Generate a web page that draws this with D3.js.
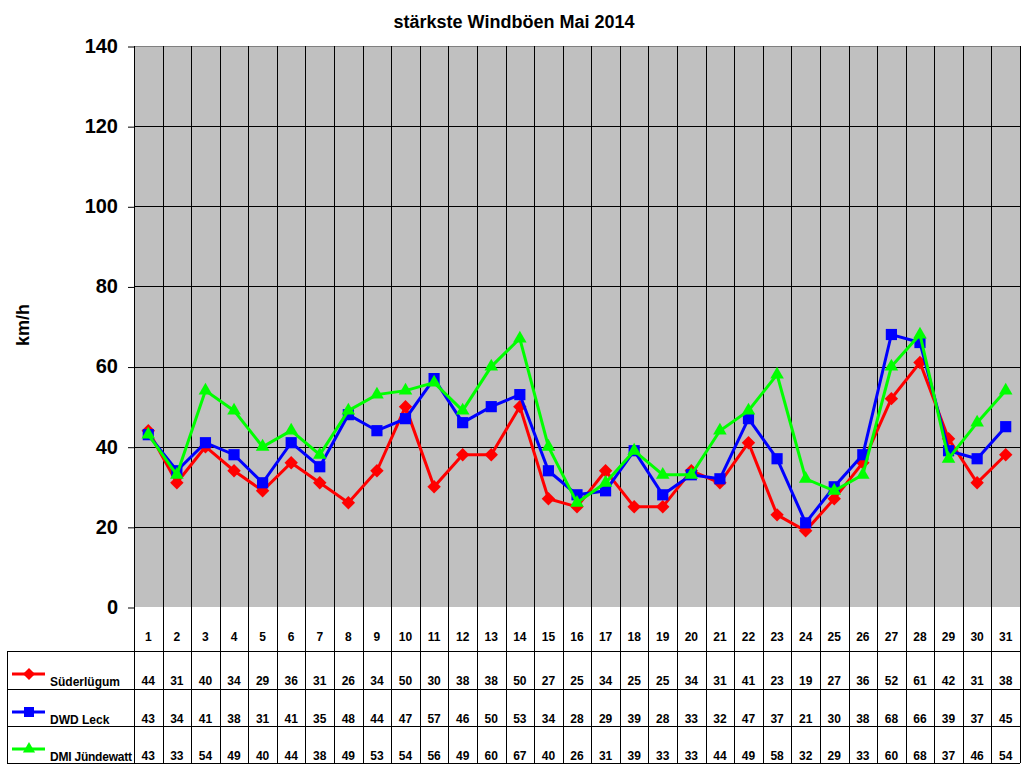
<!DOCTYPE html>
<html>
<head>
<meta charset="UTF-8">
<script src="https://d3js.org/d3.v7.min.js"></script>
<style>
  body { margin: 0; background: #fff; }
  text { font-family: "Liberation Sans", Arial, sans-serif; font-weight: bold; }
</style>
</head>
<body>
<svg width="1024" height="768"></svg>
<script>
// data
var days = d3.range(1, 32);
var seriesNames = ["Süderlügum", "DWD Leck", "DMI Jündewatt"];
var suederluegum = [44,31,40,34,29,36,31,26,34,50,30,38,38,50,27,25,34,25,25,34,31,41,23,19,27,36,52,61,42,31,38];
var dwdLeck      = [43,34,41,38,31,41,35,48,44,47,57,46,50,53,34,28,29,39,28,33,32,47,37,21,30,38,68,66,39,37,45];
var dmiJuendewatt= [43,33,54,49,40,44,38,49,53,54,56,49,60,67,40,26,31,39,33,33,44,49,58,32,29,33,60,68,37,46,54];
var yTicks = [0, 20, 40, 60, 80, 100, 120, 140];

// excel style markers: diamond = square turned by 45 degrees
var series = [
  { name: seriesNames[0], values: suederluegum, color: "#ff0000", symbol: d3.symbolSquare, size: 90, rot: 45 },
  { name: seriesNames[1], values: dwdLeck, color: "#0000ff", symbol: d3.symbolSquare, size: 125, rot: 0 },
  { name: seriesNames[2], values: dmiJuendewatt, color: "#00ff00", symbol: d3.symbolTriangle, size: 80, rot: 0 }
];

var plotLeft = 134, plotRight = 1020, plotTop = 46, plotBottom = 607;
var svg = d3.select("svg");

var x = d3.scaleBand().domain(days).range([plotLeft, plotRight]);
var y = d3.scaleLinear().domain([0, 140]).range([plotBottom, plotTop]);

// title
svg.append("text").attr("x", 514).attr("y", 28).attr("text-anchor", "middle")
  .style("font-size", "18px").text("stärkste Windböen Mai 2014");

// plot background
svg.append("rect").attr("x", plotLeft).attr("y", plotTop)
  .attr("width", plotRight - plotLeft).attr("height", plotBottom - plotTop).attr("fill", "#c0c0c0");

// horizontal grid
svg.append("g").selectAll("line").data(yTicks.slice(1)).enter().append("line")
  .attr("x1", plotLeft).attr("x2", plotRight)
  .attr("y1", function(d) { return Math.round(y(d)) + 0.5; })
  .attr("y2", function(d) { return Math.round(y(d)) + 0.5; })
  .attr("stroke", function(d) { return d == 140 ? "#808080" : "#000"; });

// vertical grid (category boundaries), through the plot and the table
var bounds = days.map(function(d) { return x(d); }).concat([plotRight]);
svg.append("g").selectAll("line").data(bounds).enter().append("line")
  .attr("x1", function(d) { return Math.round(d) + 0.5; })
  .attr("x2", function(d) { return Math.round(d) + 0.5; })
  .attr("y1", plotTop).attr("y2", 763)
  .attr("stroke", "#000");

// y axis
var yAxis = svg.append("g").attr("transform", "translate(" + plotLeft + ",0)")
  .call(d3.axisLeft(y).tickValues(yTicks).tickSize(6).tickPadding(10));
yAxis.select(".domain").remove();
yAxis.selectAll("line").attr("stroke", "#000").attr("transform", "translate(0,0.5)");
yAxis.selectAll("text").style("font-size", "20px").style("font-family", "Liberation Sans, Arial, sans-serif")
  .style("font-weight", "bold").attr("fill", "#000");

svg.append("text").attr("transform", "translate(29,325) rotate(-90)")
  .attr("text-anchor", "middle").style("font-size", "18px").text("km/h");

// data table
var rowTop = [607, 651, 689, 726, 763];
svg.append("g").selectAll("line").data(rowTop.slice(1)).enter().append("line")
  .attr("x1", 7).attr("x2", plotRight)
  .attr("y1", function(d) { return d + 0.5; }).attr("y2", function(d) { return d + 0.5; })
  .attr("stroke", "#000");
svg.append("line").attr("x1", 7.5).attr("x2", 7.5).attr("y1", 651).attr("y2", 763).attr("stroke", "#000");

svg.append("g").selectAll("text").data(days).enter().append("text")
  .attr("x", function(d) { return x(d) + x.bandwidth() / 2; })
  .attr("y", 641).attr("text-anchor", "middle").style("font-size", "12px")
  .text(function(d) { return d; });

series.forEach(function(s, i) {
  var base = rowTop[i + 1];
  var g = svg.append("g");
  g.selectAll("text").data(s.values).enter().append("text")
    .attr("x", function(d, j) { return x(days[j]) + x.bandwidth() / 2; })
    .attr("y", base + 34).attr("text-anchor", "middle").style("font-size", "12px")
    .text(function(d) { return d; });
  // legend key
  var ky = base + 23;
  g.append("line").attr("x1", 12).attr("x2", 45).attr("y1", ky).attr("y2", ky)
    .attr("stroke", s.color).attr("stroke-width", 3);
  g.append("path").attr("d", d3.symbol().type(s.symbol).size(s.size * 0.8))
    .attr("transform", "translate(29," + ky + ") rotate(" + s.rot + ")").attr("fill", s.color);
  g.append("text").attr("x", 50).attr("y", base + 35).style("font-size", "12px")
    .attr("textLength", s.name.length > 12 ? 82 : null).text(s.name);
});

// series lines and markers
var line = d3.line()
  .x(function(d, j) { return x(days[j]) + x.bandwidth() / 2; })
  .y(function(d) { return y(d); });

series.forEach(function(s) {
  svg.append("path").datum(s.values).attr("d", line)
    .attr("fill", "none").attr("stroke", s.color).attr("stroke-width", 3);
  svg.append("g").selectAll("path").data(s.values).enter().append("path")
    .attr("d", d3.symbol().type(s.symbol).size(s.size))
    .attr("transform", function(d, j) {
      return "translate(" + (x(days[j]) + x.bandwidth() / 2) + "," + y(d) + ") rotate(" + s.rot + ")";
    })
    .attr("fill", s.color);
});
</script>
</body>
</html>
